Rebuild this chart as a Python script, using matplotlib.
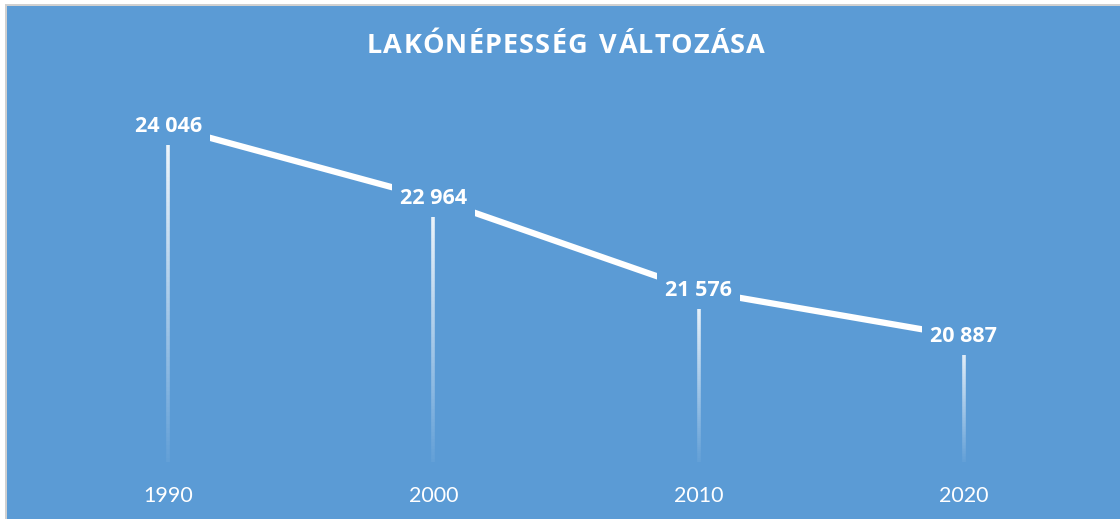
import numpy as np
import matplotlib
matplotlib.use("Agg")
import matplotlib.pyplot as plt
from matplotlib.collections import LineCollection
from matplotlib.patches import Rectangle

years = ["1990", "2000", "2010", "2020"]
population = [24046, 22964, 21576, 20887]
labels = ["24 046", "22 964", "21 576", "20 887"]
title = "LAKÓNÉPESSÉG VÁLTOZÁSA"

BLUE = "#5B9BD5"
W, H = 1120, 519
fig = plt.figure(figsize=(W / 100, H / 100), dpi=100)
fig.patch.set_facecolor("white")
# chart area with border
fig.patches.append(Rectangle((5 / W, 0), 1 - 5 / W, 1 - 4 / H, transform=fig.transFigure,
                             facecolor="#D0D0D0", edgecolor="none", zorder=-2))
fig.patches.append(Rectangle((7 / W, 0), 1 - 7 / W, 1 - 6 / H, transform=fig.transFigure,
                             facecolor=BLUE, edgecolor="none", zorder=-1))

ax = fig.add_axes([35.5 / W, (H - 462) / H, (1096.5 - 35.5) / W, (462 - 96.3) / H])
ax.set_facecolor("none")
ax.set_xlim(-0.5, 3.5)
ax.set_ylim(19000, 24500)
for s in ax.spines.values():
    s.set_visible(False)
ax.set_yticks([])
x = np.arange(len(years))
ax.set_xticks(x)
ax.set_xticklabels(years, fontsize=15.5, color="white", family=["Lato", "DejaVu Sans"])
ax.tick_params(axis="x", length=0, pad=17)

# gradient drop lines
ymin = 19000
for xi, yi in zip(x, population):
    n = 80
    ys = np.linspace(yi, ymin, n + 1)
    segs = [[(xi, ys[i]), (xi, ys[i + 1])] for i in range(n)]
    alphas = np.linspace(0.95, 0.05, n)
    cols = [(1, 1, 1, a) for a in alphas]
    ax.add_collection(LineCollection(segs, colors=cols, linewidths=2.6, zorder=2,
                                     capstyle="butt"))

ax.plot(x, population, color="white", lw=4.5, zorder=3, solid_capstyle="butt")

for xi, yi, lab in zip(x, population, labels):
    ax.text(xi, yi, lab, ha="center", va="center", fontsize=15.5, fontweight="bold",
            color="white", family=["Open Sans", "DejaVu Sans"], zorder=5,
            bbox=dict(boxstyle="square,pad=0.38", facecolor=BLUE, edgecolor="none"))

# title with letter spacing
fig.canvas.draw()
renderer = fig.canvas.get_renderer()
fs = 19.5
widths = []
for ch in title:
    t = fig.text(0, 0, ch if ch != " " else "n", fontsize=fs, fontweight="bold",
                 family=["Open Sans", "DejaVu Sans"])
    bb = t.get_window_extent(renderer)
    widths.append(bb.width * (0.55 if ch == " " else 1.0))
    t.remove()
target = 765 - 367
sp = (target - sum(widths)) / (len(title) - 1)
cx = 367
for ch, w in zip(title, widths):
    if ch != " ":
        fig.text(cx / W, 1 - 46 / H, ch, fontsize=fs, fontweight="bold", color="white",
                 family=["Open Sans", "DejaVu Sans"], ha="left", va="center")
    cx += w + sp

fig.savefig("out.png", dpi=100, facecolor=fig.get_facecolor())
